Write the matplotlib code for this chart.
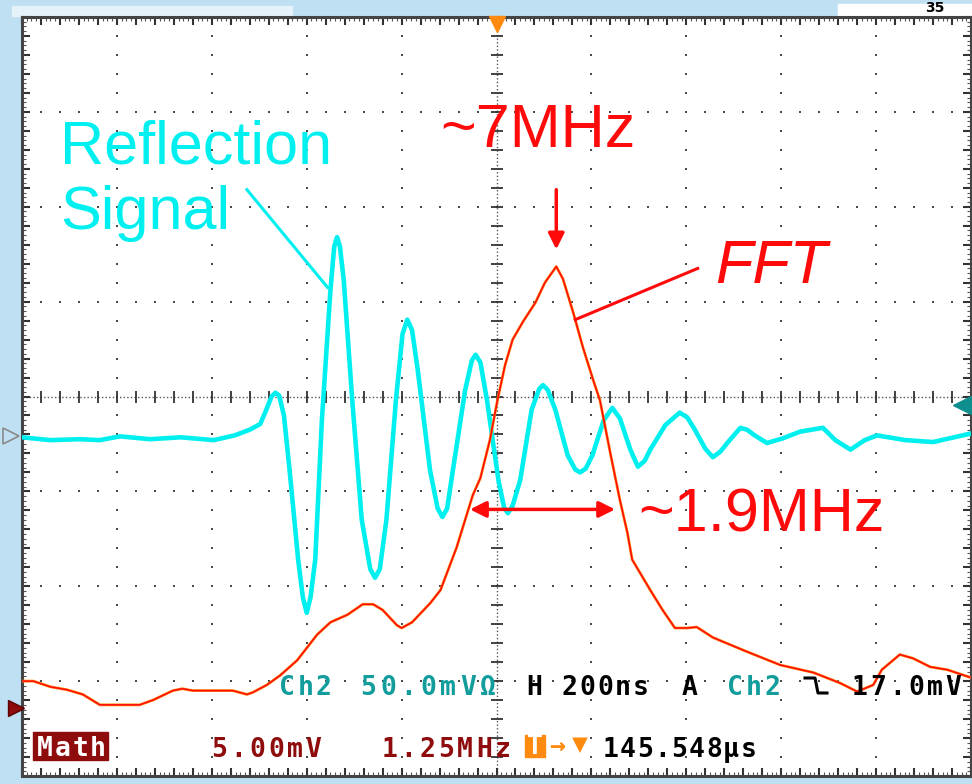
import matplotlib
matplotlib.use("Agg")
import matplotlib.pyplot as plt
from matplotlib.lines import Line2D
from matplotlib.patches import Rectangle

W, H = 972, 784

# screen divisions: x 200 ns/div (10 div), y 50 mV/div (8 div, 0 = centre)
refl_t = [0.00, 0.30, 0.61, 0.82, 1.03, 1.35, 1.67, 2.02, 2.24, 2.40, 2.51, 2.57,
          2.63, 2.67, 2.71, 2.76, 2.82, 2.91, 2.96, 3.00, 3.04, 3.09, 3.16, 3.25,
          3.29, 3.32, 3.35, 3.39, 3.48, 3.58, 3.67, 3.72, 3.77, 3.84, 3.94, 4.01,
          4.06, 4.11, 4.17, 4.30, 4.38, 4.43, 4.48, 4.54, 4.67, 4.74, 4.78, 4.83,
          4.90, 5.02, 5.08, 5.12, 5.17, 5.25, 5.37, 5.45, 5.49, 5.54, 5.62, 5.75,
          5.83, 5.88, 5.94, 6.01, 6.13, 6.22, 6.30, 6.41, 6.49, 6.56, 6.62, 6.78,
          6.93, 7.01, 7.09, 7.20, 7.28, 7.36, 7.44, 7.57, 7.64, 7.72, 7.85, 8.02,
          8.20, 8.44, 8.57, 8.73, 8.88, 9.01, 9.31, 9.60, 10.0]
refl_v = [-0.43, -0.46, -0.45, -0.46, -0.42, -0.45, -0.43, -0.46, -0.41, -0.35, -0.29, -0.15,
          0.00, 0.04, 0.01, -0.20, -0.78, -1.72, -2.12, -2.28, -2.12, -1.72, -0.25, 1.12,
          1.58, 1.68, 1.58, 1.23, -0.04, -1.30, -1.82, -1.91, -1.82, -1.30, -0.04, 0.66,
          0.81, 0.70, 0.28, -0.78, -1.18, -1.27, -1.18, -0.78, 0.07, 0.38, 0.44, 0.36,
          -0.04, -0.88, -1.17, -1.23, -1.15, -0.88, -0.14, 0.08, 0.12, 0.07, -0.14, -0.62,
          -0.77, -0.80, -0.76, -0.62, -0.25, -0.12, -0.23, -0.56, -0.74, -0.68, -0.56, -0.30,
          -0.17, -0.22, -0.35, -0.55, -0.64, -0.58, -0.48, -0.33, -0.35, -0.41, -0.49, -0.44,
          -0.37, -0.33, -0.46, -0.56, -0.46, -0.41, -0.46, -0.48, -0.39]

# math trace (FFT), 1.25 MHz/div
fft_t = [0.00, 0.12, 0.30, 0.47, 0.64, 0.82, 1.24, 1.38, 1.59, 1.69, 1.80, 2.22,
         2.37, 2.43, 2.58, 2.72, 2.90, 3.04, 3.11, 3.25, 3.43, 3.59, 3.70, 3.80,
         3.95, 4.00, 4.11, 4.30, 4.41, 4.58, 4.75, 4.83, 4.93, 5.01, 5.09, 5.17,
         5.28, 5.41, 5.51, 5.63, 5.70, 5.81, 5.91, 6.02, 6.09, 6.20, 6.30, 6.38,
         6.43, 6.62, 6.75, 6.88, 7.01, 7.11, 7.28, 7.64, 7.99, 8.34, 8.62, 8.80,
         8.97, 9.06, 9.25, 9.39, 9.57, 9.75, 9.99]
fft_v = [-3.00, -3.00, -3.06, -3.09, -3.14, -3.25, -3.25, -3.20, -3.10, -3.08, -3.10, -3.10,
         -3.14, -3.12, -3.04, -2.94, -2.78, -2.60, -2.51, -2.38, -2.30, -2.19, -2.19, -2.25,
         -2.41, -2.44, -2.38, -2.18, -2.04, -1.59, -1.04, -0.86, -0.46, -0.04, 0.33, 0.60,
         0.79, 0.99, 1.20, 1.37, 1.24, 0.88, 0.52, 0.17, -0.04, -0.60, -1.09, -1.44,
         -1.72, -2.04, -2.25, -2.44, -2.44, -2.43, -2.54, -2.69, -2.83, -2.91, -3.02, -3.11,
         -3.04, -2.88, -2.72, -2.76, -2.85, -2.88, -2.96]

CYAN = "#00f0f0"
RED = "#ff0a0a"
TEAL = "#129c9c"
DARKRED = "#8e0c0c"
ORANGE = "#ff8a10"
GRID = "#4a4a4a"


def fxy(x, y):
    # pixel position -> figure fraction
    return x / W, 1 - y / H


def scope_text(fig, left, right, base, s, color):
    pitch = (right - left) / len(s)
    for i, ch in enumerate(s):
        x, y = fxy(left + (i + 0.5) * pitch, base)
        fig.text(x, y, ch, ha="center", va="baseline", color=color, fontsize=19,
                 fontweight="bold", family=["DejaVu Sans Mono", "DejaVu Sans"], zorder=10)


fig = plt.figure(figsize=(W / 100, H / 100), dpi=100, facecolor="#bfe0f3")
ax = fig.add_axes([22 / W, 1 - 776 / H, 949 / W, 759 / H])
ax.set_facecolor("white")
ax.set_xlim(0, 10)
ax.set_ylim(-4, 4)

# graticule
minor = [k * 0.2 for k in range(1, 50)]
for i in range(1, 10):
    if i != 5:
        ys = [-4 + k * 0.2 for k in range(1, 40)]
        ax.plot([i] * len(ys), ys, ls="none", marker="s", ms=1.6, mew=0, color=GRID, zorder=1)
for j in range(-3, 4):
    if j != 0:
        ax.plot(minor, [j] * len(minor), ls="none", marker="s", ms=1.6, mew=0, color=GRID, zorder=1)
ax.axhline(0, color="#555555", lw=1.0, ls=(0, (1, 1.6)), zorder=1)
ax.axvline(5, color="#555555", lw=1.0, ls=(0, (1, 1.6)), zorder=1)
ax.plot(minor, [0] * len(minor), ls="none", marker="|", ms=8, mew=1.3, color="#333333", zorder=1)
vt = [-4 + k * 0.2 for k in range(1, 40)]
ax.plot([5] * len(vt), vt, ls="none", marker="_", ms=8, mew=1.3, color="#333333", zorder=1)

for sp in ax.spines.values():
    sp.set_linewidth(2.2)
    sp.set_color("#444444")
ax.set_xticks([k * 0.2 for k in range(0, 51)])
ax.set_yticks([-4 + k * 0.2 for k in range(0, 41)])
ax.set_xticks([k * 0.05 for k in range(0, 201)], minor=True)
ax.set_yticks([-4 + k * 0.05 for k in range(0, 161)], minor=True)
ax.tick_params(which="major", direction="in", length=6, width=1.5, color="#333333",
               top=True, right=True, labelbottom=False, labelleft=False)
ax.tick_params(which="minor", direction="in", length=3, width=0.8, color="#555555",
               top=True, right=True)

# traces
ax.plot(refl_t, refl_v, color=CYAN, lw=3.3, solid_joinstyle="round", zorder=3)
ax.plot(fft_t, fft_v, color=ORANGE, lw=2.0, zorder=4)
ax.plot(fft_t, fft_v, color=RED, lw=1.1, zorder=5)

# annotations
ax.annotate("", xy=(5.63, 1.55), xytext=(5.63, 2.18),
            arrowprops=dict(arrowstyle="-|>", color=RED, lw=2.5, mutation_scale=24,
                            shrinkA=0, shrinkB=0), zorder=6)
ax.annotate("", xy=(4.72, -1.19), xytext=(6.25, -1.19),
            arrowprops=dict(arrowstyle="<|-|>", color=RED, lw=2.5, mutation_scale=24,
                            shrinkA=0, shrinkB=0), zorder=6)
ax.plot([2.37, 3.22], [2.18, 1.15], color=CYAN, lw=2.2, zorder=6)
ax.plot([5.83, 7.12], [0.81, 1.35], color=RED, lw=2.2, zorder=6)

big = dict(family="Liberation Sans", fontsize=44, va="baseline", ha="left", zorder=7)
to_data = ax.transData.inverted()
ax.text(*to_data.transform(fig.transFigure.transform(fxy(60, 163))),
        "Reflection", color=CYAN, **big)
ax.text(*to_data.transform(fig.transFigure.transform(fxy(60, 229))),
        "Signal", color=CYAN, **big)
ax.text(*to_data.transform(fig.transFigure.transform(fxy(440, 147))),
        "~7MHz", color=RED, **big)
ax.text(*to_data.transform(fig.transFigure.transform(fxy(715, 283))),
        "FFT", color=RED, style="italic", **big)
ax.text(*to_data.transform(fig.transFigure.transform(fxy(638, 532))),
        "~1.9MHz", color=RED, **big)

# edge markers
ax.plot([5.0], [3.93], marker="v", ms=11, color=ORANGE, clip_on=False, zorder=8)
ax.plot([9.9], [-0.09], marker="<", ms=13, color="#0f8e8e", clip_on=False, zorder=8)
ax.plot([-0.12], [-0.42], marker=">", ms=11, mfc="none", mec="#8a8a8a", mew=1.2,
        clip_on=False, zorder=8)
ax.plot([-0.06], [-3.28], marker=">", ms=12, color=DARKRED, mec="#5a0000",
        clip_on=False, zorder=8)

# readouts
scope_text(fig, 278, 333, 695, "Ch2", TEAL)
scope_text(fig, 358, 498, 695, "50.0mVΩ", TEAL)
scope_text(fig, 525, 543, 695, "H", "black")
scope_text(fig, 560, 650, 695, "200ns", "black")
scope_text(fig, 680, 700, 695, "A", "black")
scope_text(fig, 725, 782, 695, "Ch2", TEAL)
edge = [fxy(*p) for p in [(805, 678), (815, 678), (818, 693), (827, 693)]]
fig.add_artist(Line2D([p[0] for p in edge], [p[1] for p in edge], color="black", lw=2.2,
                      transform=fig.transFigure, zorder=10))
scope_text(fig, 850, 963, 695, "17.0mV", "black")

x0, y0 = fxy(33, 760)
fig.add_artist(Rectangle((x0, y0), 75 / W, 28 / H, transform=fig.transFigure,
                         color=DARKRED, zorder=9))
scope_text(fig, 36, 107, 756, "Math", "white")
scope_text(fig, 210, 323, 757, "5.00mV", DARKRED)
scope_text(fig, 380, 512, 757, "1.25MHz", DARKRED)
x0, y0 = fxy(525, 757)
fig.add_artist(Rectangle((x0, y0), 20 / W, 22 / H, transform=fig.transFigure,
                         color=ORANGE, zorder=9))
scope_text(fig, 525, 545, 754, "T", "white")
scope_text(fig, 547, 568, 754, "→", ORANGE)
scope_text(fig, 568, 592, 752, "▼", ORANGE)
scope_text(fig, 602, 757, 757, "145.548µs", "black")

# top strip
x0, y0 = fxy(838, 16)
fig.add_artist(Rectangle((x0, y0), 134 / W, 12 / H, transform=fig.transFigure,
                         color="white", zorder=0))
x0, y0 = fxy(12, 16)
fig.add_artist(Rectangle((x0, y0), 280 / W, 10 / H, transform=fig.transFigure,
                         color="#e6f2fa", zorder=0))
fig.text(*fxy(925, 8), "35", fontsize=10, fontweight="bold", color="black",
         va="center", ha="left")

fig.savefig("out.png", dpi=100, facecolor=fig.get_facecolor())
